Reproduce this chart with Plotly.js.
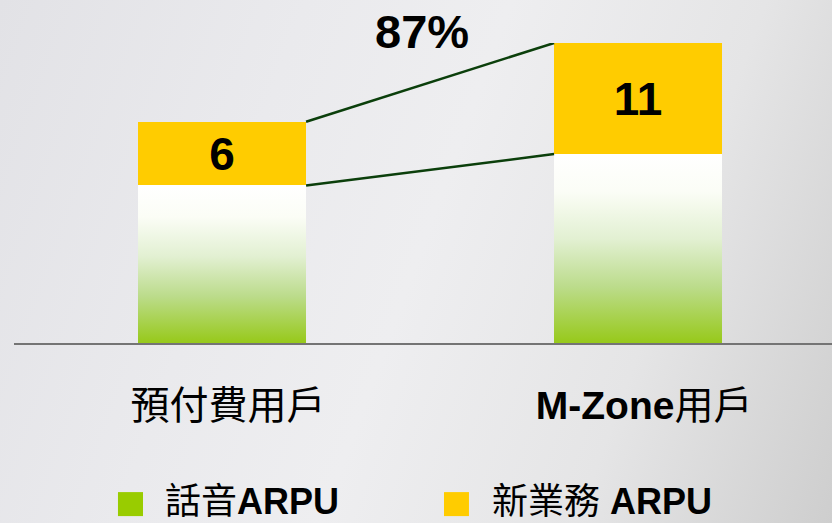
<!DOCTYPE html>
<html>
<head>
<meta charset="utf-8">
<script src="https://cdn.plot.ly/plotly-3.0.1.min.js"></script>
<style>
  html, body { margin: 0; padding: 0; }
  body {
    width: 832px; height: 523px; overflow: hidden;
    background: linear-gradient(110deg, #e2e2e6 0%, #eaeaed 30%, #eeeef0 50%, #e5e5e6 75%, #cecece 100%);
  }
  #chart { width: 832px; height: 523px; }
</style>
</head>
<body>
<div id="chart"></div>
<script>
// chart values
const categories = ['預付費用戶', 'M-Zone用戶'];
const tickLabels = ['預付費用戶', '<b>M-Zone</b>用戶'];
const voiceArpu = [15.6, 18.7];
const dataArpu = [6.3, 11.0];
const dataLabels = ['6', '11'];
const seriesNames = ['話音<b>ARPU</b>', '新業務 <b>ARPU</b>'];
const growthLabel = '87%';

const barWidth = 0.404;
const fontFamily = '"Liberation Sans", Arial, "Noto Sans CJK TC", sans-serif';
const green = '#99cc00';
const yellow = '#ffcc00';

const voiceTrace = {
    type: 'bar',
    x: categories,
    y: voiceArpu,
    width: [barWidth, barWidth],
    marker: { color: green, line: { width: 0 } },
    hoverinfo: 'skip',
    showlegend: false
};

const dataTrace = {
    type: 'bar',
    x: categories,
    y: dataArpu,
    width: [barWidth, barWidth],
    text: dataLabels,
    textposition: 'inside',
    insidetextanchor: 'middle',
    textangle: 0,
    textfont: { family: fontFamily, size: 46, color: '#000000', weight: 'bold' },
    marker: { color: yellow, line: { width: 0 } },
    hoverinfo: 'skip',
    showlegend: false
};

const totals = voiceArpu.map((v, i) => v + dataArpu[i]);

// connector lines between the yellow segments
const shapes = [
    { type: 'line', xref: 'x', yref: 'y', x0: barWidth / 2, x1: 1 - barWidth / 2,
      y0: totals[0], y1: totals[1], line: { color: '#0b3f0b', width: 2.5 } },
    { type: 'line', xref: 'x', yref: 'y', x0: barWidth / 2, x1: 1 - barWidth / 2,
      y0: voiceArpu[0], y1: voiceArpu[1], line: { color: '#0b3f0b', width: 2.5 } },
    // legend swatches
    { type: 'rect', xref: 'paper', yref: 'paper', x0: 0.1271, x1: 0.1577, y0: -0.497, y1: -0.577,
      fillcolor: green, line: { width: 0 } },
    { type: 'rect', xref: 'paper', yref: 'paper', x0: 0.5257, x1: 0.5562, y0: -0.497, y1: -0.577,
      fillcolor: yellow, line: { width: 0 } }
];

const annotations = [
    { x: 0.48, xref: 'x', y: 1.037, yref: 'paper', text: '<b>' + growthLabel + '</b>',
      showarrow: false, xanchor: 'center', yanchor: 'middle',
      font: { family: fontFamily, size: 47, color: '#000000' } },
    { x: 0.1822, xref: 'paper', y: -0.527, yref: 'paper', text: seriesNames[0],
      showarrow: false, xanchor: 'left', yanchor: 'middle',
      font: { family: fontFamily, size: 36, color: '#000000' } },
    { x: 0.5819, xref: 'paper', y: -0.527, yref: 'paper', text: seriesNames[1],
      showarrow: false, xanchor: 'left', yanchor: 'middle',
      font: { family: fontFamily, size: 36, color: '#000000' } }
];

const layout = {
    width: 832,
    height: 523,
    margin: { t: 43, l: 14, r: 0, b: 180 },
    paper_bgcolor: 'rgba(0,0,0,0)',
    plot_bgcolor: 'rgba(0,0,0,0)',
    barmode: 'stack',
    showlegend: false,
    xaxis: {
        type: 'category',
        range: [-0.5, 1.466],
        tickvals: categories,
        ticktext: tickLabels,
        tickfont: { family: fontFamily, size: 39, color: '#000000' },
        ticks: '',
        ticklabelstandoff: 27,
        ticklabelshift: 6,
        showline: true,
        linecolor: '#747474',
        linewidth: 2,
        showgrid: false,
        zeroline: false,
        fixedrange: true
    },
    yaxis: {
        range: [0, totals[1]],
        visible: false,
        showgrid: false,
        zeroline: false,
        fixedrange: true
    },
    shapes: shapes,
    annotations: annotations
};

Plotly.newPlot('chart', [voiceTrace, dataTrace], layout, { displayModeBar: false, staticPlot: true })
    .then(gd => {
        // white-to-green vertical gradient on the voice ARPU bars
        const svgNS = 'http://www.w3.org/2000/svg';
        const defs = gd.querySelector('.main-svg defs');
        const grad = document.createElementNS(svgNS, 'linearGradient');
        grad.setAttribute('id', 'voiceGrad');
        grad.setAttribute('x1', '0'); grad.setAttribute('y1', '0');
        grad.setAttribute('x2', '0'); grad.setAttribute('y2', '1');
        [[0, '#ffffff'], [0.2, '#fbfdf6'], [0.45, '#e2f0d2'], [0.7, '#bcdc8c'], [1, '#97c91a']]
            .forEach(([off, col]) => {
                const s = document.createElementNS(svgNS, 'stop');
                s.setAttribute('offset', off);
                s.setAttribute('stop-color', col);
                grad.appendChild(s);
            });
        defs.appendChild(grad);
        const firstTrace = gd.querySelectorAll('.barlayer .trace')[0];
        firstTrace.querySelectorAll('path').forEach(p => { p.style.fill = 'url(#voiceGrad)'; });
    });
</script>
</body>
</html>
